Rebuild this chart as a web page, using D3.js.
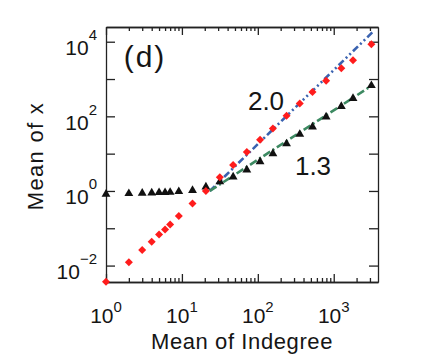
<!DOCTYPE html>
<html>
    <head>
        <meta charset="UTF-8">
        <style>
            body {margin:0; background:#fff;}
            text {font-family: "Liberation Sans", Arial, sans-serif; fill:#151515;}
            .axis path, .axis line {stroke:#222; stroke-width:1.3px;}
        </style>
        <script src="https://cdn.jsdelivr.net/npm/d3@7"></script>
    </head>
    <body>
        <svg width="436" height="355"></svg>
        <script>
            //... values
            var indegree = [1, 2, 3, 4, 5, 6, 7, 9.1, 13.8, 20.7, 31.6, 47.3, 71.6, 107, 158, 239, 357, 525, 794, 1259, 1795, 3133];
            var meanRed = [0.0037, 0.0123, 0.0263, 0.0437, 0.0676, 0.0933, 0.127, 0.214, 0.461, 1.0, 2.32, 5.0, 11.1, 23.6, 47.5, 104, 222, 447, 906, 1950, 3190, 8510];
            var meanBlack = [0.817, 0.853, 0.869, 0.885, 0.906, 0.906, 0.923, 0.964, 1.04, 1.28, 1.76, 2.39, 3.67, 6.12, 10.0, 18.4, 33.1, 52.1, 96.4, 185, 302, 671];
            var fit20 = [[23.3, 1], [3290, 18500]];
            var fit13 = [[23.3, 1], [3290, 700]];
            var xMajor = [1, 10, 100, 1000];
            var yMajor = [1e-2, 1e-1, 1, 10, 100, 1e3, 1e4];
            var yLabels = [-2, 0, 2, 4];

            var svg = d3.select("svg");
            var L = 106, R = 378, T = 27, B = 282;

            var x = d3.scaleLog().domain([1, 3830]).range([L, R]);
            var y = d3.scaleLog().domain([0.00363, 24800]).range([B, T]);

            var xMinor = [];
            xMajor.forEach(function(d) {
                for (var k = 2; k <= 9; k++) if (d * k < 3830) xMinor.push(d * k);
            });

            //... frame and ticks
            function ax(g, a) { g.attr("class", "axis").call(a).call(s => s.selectAll("text").remove()); }
            svg.append("g").attr("transform", "translate(0," + B + ")").call(ax, d3.axisBottom(x).tickValues(xMajor).tickSize(-8).tickSizeOuter(0));
            svg.append("g").attr("transform", "translate(0," + B + ")").call(ax, d3.axisBottom(x).tickValues(xMinor).tickSize(-4).tickSizeOuter(0));
            svg.append("g").attr("transform", "translate(0," + T + ")").call(ax, d3.axisTop(x).tickValues(xMajor).tickSize(-8).tickSizeOuter(0));
            svg.append("g").attr("transform", "translate(0," + T + ")").call(ax, d3.axisTop(x).tickValues(xMinor).tickSize(-4).tickSizeOuter(0));
            svg.append("g").attr("transform", "translate(" + L + ",0)").call(ax, d3.axisLeft(y).tickValues(yMajor).tickSize(-9).tickSizeOuter(0));
            svg.append("g").attr("transform", "translate(" + R + ",0)").call(ax, d3.axisRight(y).tickValues(yMajor).tickSize(-9).tickSizeOuter(0));

            //... tick labels with superscripts
            svg.selectAll(".xl").data(xMajor).enter().append("text")
                .attr("x", d => x(d)).attr("y", B + 41)
                .attr("text-anchor", "middle").style("font-size", "21px")
                .call(t => {
                    t.append("tspan").text("10");
                    t.append("tspan").attr("dy", -11).style("font-size", "15px").text(d => Math.round(Math.log10(d)));
                });
            svg.selectAll(".yl").data(yLabels).enter().append("text")
                .attr("x", 97).attr("y", d => y(Math.pow(10, d)) + 13.5)
                .attr("text-anchor", "end").style("font-size", "21px")
                .call(t => {
                    t.append("tspan").text("10");
                    t.append("tspan").attr("dy", -15).style("font-size", "15px").text(d => d < 0 ? "\u2212" + (-d) : d);
                });

            //... axis titles
            svg.append("text").attr("x", 242).attr("y", 349).attr("text-anchor", "middle")
                .style("font-size", "22px").style("letter-spacing", "0.6px").text("Mean of Indegree");
            svg.append("text").attr("transform", "translate(43,156) rotate(-90)").attr("text-anchor", "middle")
                .style("font-size", "22px").style("letter-spacing", "1.3px").text("Mean of x");

            //... fit lines
            var line = d3.line().x(d => x(d[0])).y(d => y(d[1]));
            svg.append("path").datum(fit20).attr("d", line)
                .attr("fill", "none").attr("stroke", "#3a62b0").attr("stroke-width", 2.6).attr("stroke-dasharray", "7,3,2,3,2,3");
            svg.append("path").datum(fit13).attr("d", line)
                .attr("fill", "none").attr("stroke", "#3d8a62").attr("stroke-width", 2.6).attr("stroke-dasharray", "8,3,2,3");

            //... markers
            var pts = indegree.map((d, i) => ({x: d, r: meanRed[i], b: meanBlack[i]}));
            svg.append("g").selectAll("path").data(pts).enter().append("path")
                .attr("d", d3.symbol(d3.symbolTriangle, 34))
                .attr("transform", d => "translate(" + x(d.x) + "," + y(d.b) + ")")
                .attr("fill", "#111");
            svg.append("g").selectAll("path").data(pts).enter().append("path")
                .attr("d", d3.symbol(d3.symbolSquare, 32))
                .attr("transform", d => "translate(" + x(d.x) + "," + y(d.r) + ") rotate(45)")
                .attr("fill", "#ff1c1c");

            //... annotations
            svg.append("text").attr("x", 145).attr("y", 67).attr("text-anchor", "middle")
                .style("font-size", "30px").style("letter-spacing", "2px").text("(d)");
            svg.append("text").attr("x", 266).attr("y", 109.5).attr("text-anchor", "middle").style("font-size", "26px").text("2.0");
            svg.append("text").attr("x", 313).attr("y", 175).attr("text-anchor", "middle").style("font-size", "26px").text("1.3");
        </script>
    </body>
</html>
